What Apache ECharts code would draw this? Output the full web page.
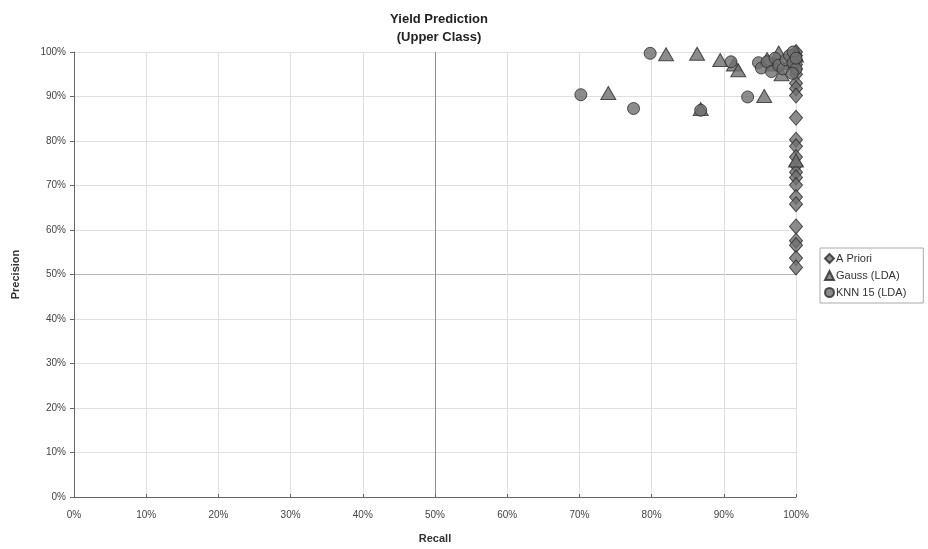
<!DOCTYPE html>
<html><head><meta charset="utf-8">
<script src="https://cdn.jsdelivr.net/npm/echarts@6/dist/echarts.min.js"></script>
<style>html,body{margin:0;padding:0;background:#fff}#c{width:928px;height:549px}</style>
</head><body><div id="c"></div>
<script>
const titleText = 'Yield Prediction\n(Upper Class)';
const xName = 'Recall';
const yName = 'Precision';
const seriesNames = ['A Priori', 'Gauss (LDA)', 'KNN 15 (LDA)'];
// [recall %, precision %]
const aPriori = [
  [100,100],[100,99.2],[100,98.2],[100,97.2],[100,96.2],[100,95],[100,93],[100,91.8],[100,90.2],
  [100,85.2],[100,80.3],[100,78.8],[100,76.4],[100,74.5],[100,73],[100,71.8],[100,70.1],
  [100,67.4],[100,65.8],[100,60.8],[100,57.6],[100,56.6],[100,53.7],[100,51.6]
];
const gauss = [
  [82,99.5],[86.3,99.6],[89.5,98.2],[91.4,97.2],[92,95.9],[95.6,90.1],[74,90.8],[86.8,87.2],
  [97.6,99.9],[98,95],[97,97.2],[96,98.4],[99,97.6],[100,99.2],[100,75.6]
];
const knn = [
  [79.8,99.7],[91,97.8],[93.3,89.9],[77.5,87.3],[70.2,90.4],[86.8,86.9],
  [94.8,97.6],[95.2,96.4],[96,97.8],[96.6,95.6],[97.1,98.6],[97.6,97],[98.2,96.2],
  [98.6,98.2],[99.1,99.2],[99.6,100],[99.6,97.6],[100,96.2],[100,98.6],[99.5,95.2]
];
const tickVals = [0,10,20,30,40,50,60,70,80,90,100];

const grid = '#e0e0e0';
const mk = {color:'#6f6f6f', borderColor:'#2a2a2a', borderWidth:1};
const chart = echarts.init(document.getElementById('c'));
chart.setOption({
  animation:false,
  backgroundColor:'#fff',
  title:{text:titleText,left:434,textAlign:'center',top:5,
    textStyle:{fontFamily:'Liberation Sans',fontSize:13,fontWeight:'bold',color:'#222',lineHeight:18}},
  legend:{orient:'vertical',left:820,top:248,itemGap:6,itemWidth:9,itemHeight:9,
    borderColor:'#aaa',borderWidth:1,padding:[5,17,5,4],
    textStyle:{fontFamily:'Liberation Sans',fontSize:11,color:'#333',padding:[0,0,0,-3]},
    data:seriesNames},
  grid:{left:74,right:132,top:52,bottom:52,containLabel:false},
  xAxis:{type:'value',min:0,max:100,interval:10,name:xName,nameLocation:'middle',nameGap:36,
    nameTextStyle:{fontFamily:'Liberation Sans',fontSize:11,fontWeight:'bold',color:'#333'},
    axisLine:{lineStyle:{color:'#666'}},axisTick:{show:true,inside:true,length:3,lineStyle:{color:'#666'}},
    axisLabel:{formatter:v=>v+'%',fontFamily:'Liberation Sans',fontSize:10,color:'#444',margin:13},
    splitLine:{show:true,lineStyle:{color:tickVals.map(v => v === 50 ? '#8f8f8f' : grid)}}},
  yAxis:{type:'value',min:0,max:100,interval:10,name:yName,nameLocation:'middle',nameGap:53,
    nameTextStyle:{fontFamily:'Liberation Sans',fontSize:11,fontWeight:'bold',color:'#333'},
    axisLine:{show:true,lineStyle:{color:'#666'}},axisTick:{show:true,length:4,lineStyle:{color:'#666'}},
    axisLabel:{formatter:v=>v+'%',fontFamily:'Liberation Sans',fontSize:10,color:'#444',margin:8},
    splitLine:{show:true,lineStyle:{color:tickVals.map(v => v === 50 ? '#b8b8b8' : grid)}}},
  series:[
    {name:seriesNames[0],type:'scatter',symbol:'diamond',symbolSize:[13,15],data:aPriori,itemStyle:mk},
    {name:seriesNames[1],type:'scatter',symbol:'triangle',symbolSize:[15,13],data:gauss,itemStyle:mk},
    {name:seriesNames[2],type:'scatter',symbol:'circle',symbolSize:12,data:knn,itemStyle:mk}
  ]
});
</script></body></html>
